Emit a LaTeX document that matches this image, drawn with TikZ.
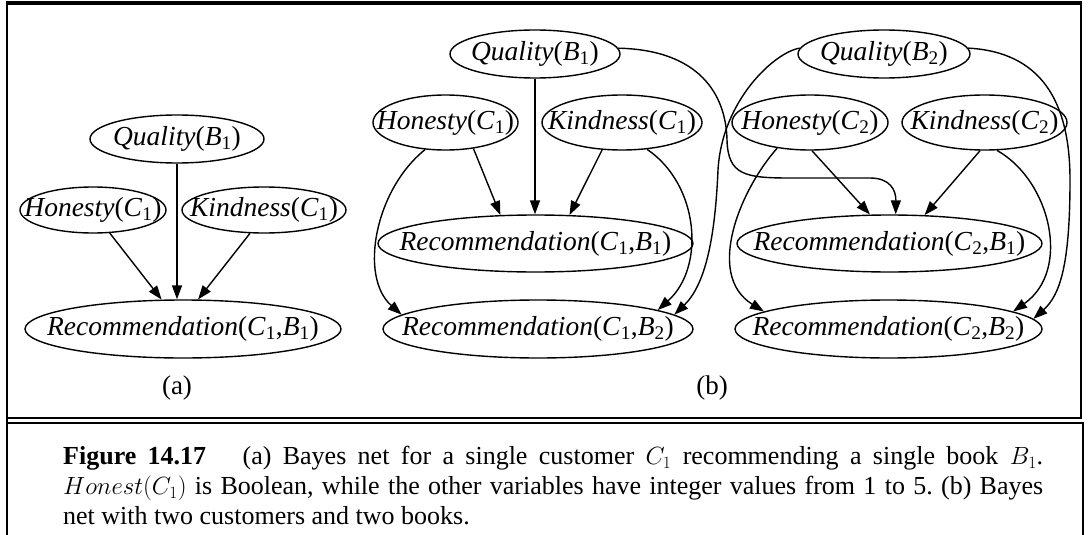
\documentclass[tikz,border=0pt]{standalone}
\usepackage{fontspec}
\setmainfont{Liberation Serif}
\usetikzlibrary{arrows.meta,shapes.geometric}

\newcommand{\rv}[2]{\textit{#1}(#2)}
\newcommand{\ix}[2]{\textit{#1}\textsubscript{#2}}
\newcommand{\lbl}[1]{\makebox[0pt]{#1}}

\begin{document}
\begin{tikzpicture}[
    x=1pt, y=-1pt,
    var/.style={
      ellipse,
      draw,
      line width=1.4pt,
      inner sep=0pt,
      font=\fontsize{27.5}{30}\selectfont
    },
    flow/.style={-{Triangle[length=14pt,width=10pt]}, line width=1.4pt},
    frame/.style={line width=2pt},
    tag/.style={font=\fontsize{27}{30}\selectfont}
  ]
    \useasboundingbox (0,0) rectangle (1089,535);

    % frame
    \draw[frame] (7,535) -- (7,3) -- (1081,3) -- (1081,417.5) -- (7,417.5);
    \draw[frame, line width=3.5pt] (6,3) -- (1082,3);
    \draw[frame] (7,423) -- (1083,423) -- (1083,535);

    % (a)
    \node[var, minimum width=174pt, minimum height=48pt] (qa) at (177,139) {\lbl{\rv{Quality}{\ix{B}{1}}}};
    \node[var, minimum width=146pt, minimum height=46pt] (ha) at (93,210) {\lbl{\rv{Honesty}{\ix{C}{1}}}};
    \node[var, minimum width=164pt, minimum height=46pt] (ka) at (264,210) {\lbl{\rv{Kindness}{\ix{C}{1}}}};
    \node[var, minimum width=316pt, minimum height=58pt] (ra) at (183,329) {\lbl{\rv{Recommendation}{\ix{C}{1},\ix{B}{1}}}};
    \node[tag] (taga) at (177,388) {(a)};

    \draw[flow] (qa.south) -- (qa.south |- ra.north);
    \draw[flow] (ha.-54) -- (ra.126);
    \draw[flow] (ka.-121) -- (ra.63);

    % (b)
    \node[var, minimum width=170pt, minimum height=48pt] (qb1) at (535,54) {\lbl{\rv{Quality}{\ix{B}{1}}}};
    \node[var, minimum width=172pt, minimum height=48pt] (qb2) at (884,54) {\lbl{\rv{Quality}{\ix{B}{2}}}};
    \node[var, minimum width=145pt, minimum height=55pt] (hc1) at (445.5,122.5) {\lbl{\rv{Honesty}{\ix{C}{1}}}};
    \node[var, minimum width=160pt, minimum height=55pt] (kc1) at (622,122.5) {\lbl{\rv{Kindness}{\ix{C}{1}}}};
    \node[var, minimum width=156pt, minimum height=55pt] (hc2) at (810,122.5) {\lbl{\rv{Honesty}{\ix{C}{2}}}};
    \node[var, minimum width=165pt, minimum height=55pt] (kc2) at (984.5,122.5) {\lbl{\rv{Kindness}{\ix{C}{2}}}};
    \node[var, minimum width=315pt, minimum height=57pt] (r11) at (535.5,243.5) {\lbl{\rv{Recommendation}{\ix{C}{1},\ix{B}{1}}}};
    \node[var, minimum width=310pt, minimum height=58pt] (r12) at (538,329) {\lbl{\rv{Recommendation}{\ix{C}{1},\ix{B}{2}}}};
    \node[var, minimum width=305pt, minimum height=57pt] (r21) at (889.5,243.5) {\lbl{\rv{Recommendation}{\ix{C}{2},\ix{B}{1}}}};
    \node[var, minimum width=307pt, minimum height=58pt] (r22) at (888.5,329) {\lbl{\rv{Recommendation}{\ix{C}{2},\ix{B}{2}}}};
    \node[tag] (tagb) at (712,388) {(b)};

    \draw[flow] (qb1.south) -- (qb1.south |- r11.north);
    \draw[flow] (hc1.-43) -- (r11.141);
    \draw[flow] (kc1.-126) -- (r11.40);
    \draw[flow] (hc1.-127) .. controls +(-50,40) and +(-43,-38) .. (r12.174);
    \draw[flow] (kc1.-47) .. controls +(52,35) and +(48,-43) .. (r12.9);
    \draw[flow] (qb2.176) .. controls (775,52) and (722,100) .. (718,170)
      .. controls (715,240) and (705,285) .. (r12.6);
    \draw[flow] (qb1.4) .. controls (700,50) and (726,95) .. (727,140)
      .. controls (728,175) and (745,178) .. (790,178) -- (870,178)
      .. controls (890,178) and (896,190) .. (r21.78);
    \draw[flow] (hc2.-86) -- (r21.124);
    \draw[flow] (kc2.-99) -- (r21.39);
    \draw[flow] (hc2.-142) .. controls (740,190) and (705,275) .. (r22.172);
    \draw[flow] (kc2.-66) .. controls (1050,180) and (1072,270) .. (r22.8);
    \draw[flow] (qb2.4) .. controls (1040,52) and (1070,100) .. (1070,180)
      .. controls (1070,265) and (1060,295) .. (r22.4);

    % caption
    \node[anchor=north west, inner sep=0pt, text width=980pt, align=justify,
      font=\fontsize{26}{30}\selectfont\frenchspacing] (cap) at (63,446)
      {\textbf{Figure 14.17}\hspace{1.4em}(a) Bayes net for a single customer $C_1$ recommending a single book $B_1$.\linebreak
       $Honest(C_1)$ is Boolean, while the other variables have integer values from 1 to 5. (b) Bayes\linebreak
       net with two customers and two books.};
  \end{tikzpicture}
\end{document}
